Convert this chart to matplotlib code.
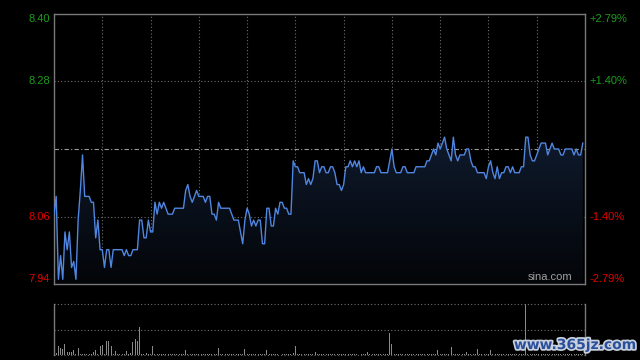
import numpy as np
import matplotlib
matplotlib.use('Agg')
from matplotlib import pyplot as plt
from matplotlib.colors import LinearSegmentedColormap
import matplotlib.patheffects as pe

# Intraday prices (one value per time step)
prices = [
    8.06, 8.09, 7.95, 7.99, 7.95, 8.03, 8.00, 8.03, 7.97, 7.98, 7.95, 8.05,
    8.10, 8.16, 8.09, 8.09, 8.09, 8.08, 8.08, 8.02, 8.05, 8.00, 8.00, 7.97,
    8.00, 8.00, 7.97, 8.00, 8.00, 8.00, 8.00, 8.00, 7.99, 8.00, 7.99, 7.99,
    8.00, 8.00, 8.00, 8.05, 8.05, 8.02, 8.02, 8.05, 8.03, 8.03, 8.08, 8.06,
    8.08, 8.07, 8.08, 8.07, 8.06, 8.06, 8.06, 8.07, 8.07, 8.07, 8.07, 8.07,
    8.10, 8.11, 8.09, 8.08, 8.09, 8.10, 8.09, 8.09, 8.09, 8.08, 8.09, 8.09,
    8.06, 8.06, 8.05, 8.08, 8.07, 8.07, 8.07, 8.07, 8.07, 8.06, 8.05, 8.05,
    8.05, 8.03, 8.01, 8.05, 8.07, 8.06, 8.04, 8.05, 8.04, 8.05, 8.05, 8.01,
    8.01, 8.07, 8.07, 8.04, 8.04, 8.07, 8.06, 8.08, 8.08, 8.07, 8.07, 8.06,
    8.06, 8.15, 8.14, 8.14, 8.13, 8.13, 8.13, 8.11, 8.12, 8.11, 8.12, 8.15,
    8.15, 8.13, 8.14, 8.14, 8.13, 8.13, 8.14, 8.14, 8.13, 8.11, 8.11, 8.10,
    8.11, 8.14, 8.14, 8.15, 8.14, 8.15, 8.14, 8.15, 8.13, 8.14, 8.13, 8.13,
    8.13, 8.13, 8.13, 8.14, 8.14, 8.13, 8.13, 8.13, 8.13, 8.15, 8.17, 8.14,
    8.13, 8.13, 8.13, 8.14, 8.14, 8.13, 8.13, 8.13, 8.13, 8.14, 8.14, 8.14,
    8.14, 8.14, 8.15, 8.15, 8.16, 8.17, 8.16, 8.18, 8.17, 8.18, 8.19, 8.17,
    8.16, 8.15, 8.19, 8.16, 8.15, 8.16, 8.16, 8.16, 8.17, 8.17, 8.15, 8.14,
    8.14, 8.13, 8.13, 8.13, 8.13, 8.12, 8.14, 8.15, 8.13, 8.12, 8.14, 8.12,
    8.13, 8.13, 8.14, 8.14, 8.13, 8.14, 8.13, 8.13, 8.13, 8.14, 8.14, 8.19,
    8.19, 8.16, 8.15, 8.15, 8.16, 8.17, 8.18, 8.18, 8.18, 8.16, 8.17, 8.18,
    8.17, 8.17, 8.17, 8.16, 8.16, 8.17, 8.17, 8.17, 8.17, 8.16, 8.17, 8.16,
    8.16, 8.18,
]

# Volume (relative units, max = 100)
volume = [
    1, 3, 17, 14, 12, 21, 5, 5, 5, 9, 2,
    13, 1, 2, 1, 2, 1, 1, 5, 9, 2, 17,
    19, 2, 27, 27, 17, 1, 7, 1, 2, 1, 2,
    7, 1, 3, 25, 31, 27, 55, 2, 1, 3, 1,
    2, 17, 2, 1, 2, 1, 1, 2, 1, 2, 1,
    1, 2, 1, 2, 1, 9, 1, 2, 1, 1, 2,
    1, 2, 1, 1, 2, 1, 2, 1, 2, 13, 1,
    2, 1, 1, 2, 1, 2, 1, 2, 1, 1, 11,
    2, 1, 2, 1, 1, 2, 1, 2, 1, 9, 2,
    1, 2, 1, 2, 5, 1, 2, 1, 2, 1, 3,
    17, 2, 1, 2, 1, 1, 2, 1, 2, 5, 1,
    2, 1, 2, 1, 1, 2, 1, 2, 1, 2, 1,
    1, 2, 1, 2, 1, 2, 1, 1, 2, 1, 2,
    5, 1, 2, 1, 2, 1, 1, 2, 1, 2, 44,
    21, 2, 1, 2, 1, 1, 2, 1, 2, 1, 2,
    1, 2, 1, 1, 2, 1, 2, 1, 2, 1, 9,
    2, 1, 2, 1, 2, 15, 1, 2, 1, 2, 1,
    2, 5, 1, 2, 1, 2, 11, 1, 2, 1, 2,
    1, 9, 2, 1, 2, 1, 1, 2, 1, 2, 1,
    2, 1, 2, 1, 2, 1, 100, 2, 1, 2, 1,
    2, 1, 1, 2, 1, 2, 1, 2, 1, 2, 1,
    2, 1, 2, 1, 2, 1, 2, 1, 2, 1, 2,
]

prev_close = 8.17
band = 0.0279
left_labels = ['8.40', '8.28', '8.06', '7.94']
right_labels = ['+2.79%', '+1.40%', '-1.40%', '-2.79%']
label_pcts = [band, 0.014, -0.014, -band]

n_steps = 242
grid_step = 22

green = '#1c9c1c'
red = '#e00000'
grid_col = '#6e6e6e'
spine_col = '#7a7a7a'

fig = plt.figure(figsize=(6.4, 3.6), dpi=100, facecolor='black')
ax = fig.add_axes([54 / 640, 1 - 284 / 360, 531 / 640, 270 / 360])
axv = fig.add_axes([54 / 640, 1 - 355 / 360, 531 / 640, 51 / 360])

x = np.arange(len(prices))
ymin, ymax = prev_close * (1 - band), prev_close * (1 + band)

for a in (ax, axv):
    a.set_facecolor('black')
    a.set_xlim(0, n_steps)
    a.set_xticks([])
    a.set_yticks([])
    for s in a.spines.values():
        s.set_color(spine_col)
        s.set_linewidth(1.0)

# gradient fill under the price line
cmap = LinearSegmentedColormap.from_list('fill', ['#030508', '#0f1a2c'])
grad = np.linspace(0, 1, 256).reshape(-1, 1)
poly = ax.fill_between(x, prices, ymin, color='none', lw=0)
img = ax.imshow(grad, cmap=cmap, aspect='auto', origin='lower',
                extent=[0, n_steps, ymin, max(prices)], zorder=1)
img.set_clip_path(poly.get_paths()[0], transform=ax.transData)
ax.set_xlim(0, n_steps)
ax.set_ylim(ymin, ymax)

# grid
for gx in range(grid_step, n_steps, grid_step):
    ax.axvline(gx, color=grid_col, lw=0.8, ls=(0, (1, 2)), zorder=0.5)
for p in (0.014, -0.014):
    ax.axhline(prev_close * (1 + p), color=grid_col, lw=0.8, ls=(0, (1, 2)), zorder=0.5)
ax.axhline(prev_close, color='#9a9a9a', lw=0.8, ls=(0, (4, 2, 1, 2)), zorder=0.5)

ax.plot(x, prices, color='#4f86e0', lw=1.0, zorder=3)

# axis labels
for lab, rlab, p in zip(left_labels, right_labels, label_pcts):
    yv = prev_close * (1 + p)
    col = green if p > 0 else red
    va = 'center'
    if p == band:
        va = 'top'
    elif p == -band:
        va = 'bottom'
    ax.annotate(lab, (0, yv), xycoords=('axes fraction', 'data'),
                xytext=(-3, 0), textcoords='offset points', ha='right', va=va,
                color=col, fontsize=8, family='Liberation Sans')
    ax.annotate(rlab, (1, yv), xycoords=('axes fraction', 'data'),
                xytext=(3, 0), textcoords='offset points', ha='left', va=va,
                color=col, fontsize=8, family='Liberation Sans')

ax.text(0.977, 0.008, 'sina.com', transform=ax.transAxes, ha='right', va='bottom',
        color='#a0a0a0', fontsize=8, family='Liberation Sans')

# volume panel
axv.bar(np.arange(len(volume)), volume, width=0.45, color='#8a8a8a', lw=0)
axv.set_ylim(0, max(volume))
axv.spines['top'].set_visible(False)
axv.spines['bottom'].set_visible(False)
for yv in (0, max(volume) / 2, max(volume)):
    axv.axhline(yv, color=grid_col, lw=0.8, ls=(0, (1, 2)), clip_on=False)

fig.text(575 / 640, 1 - 345 / 360, 'www.365jz.com', ha='center', va='center',
         color='#2a4f9c', fontsize=10, fontweight='bold', family='DejaVu Sans',
         path_effects=[pe.withStroke(linewidth=2.5, foreground='#c8d0dc')])

fig.savefig('out.png', dpi=100, facecolor='black')
